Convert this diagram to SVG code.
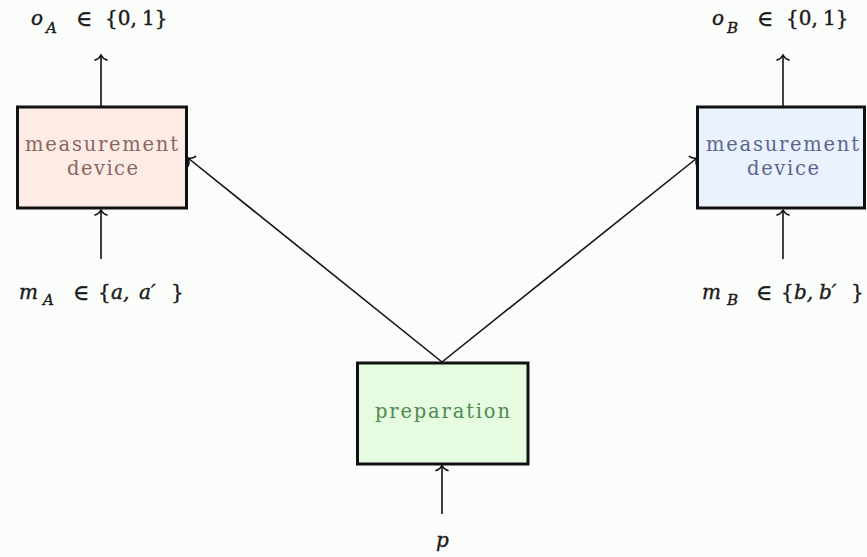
<svg xmlns="http://www.w3.org/2000/svg" width="867" height="557" viewBox="0 0 867 557">
  <style>
    .box { stroke: #111; stroke-width: 3; }
    .lbl { font-family: "DejaVu Serif", "Liberation Serif", serif; font-size: 19.5px; }
    .math { font-family: "DejaVu Serif", "Liberation Serif", serif; font-size: 20px; fill: #1a1a1a; stroke: #1a1a1a; stroke-width: 0.4; }
    .it { font-style: italic; }
    .sub { font-style: italic; font-size: 15px; }
    .big { font-size: 22px; }
    .wire { stroke: #111; stroke-width: 1.6; fill: none; marker-end: url(#tip); }
  </style>
  <defs>
    <marker id="tip" markerUnits="userSpaceOnUse" viewBox="-8 -8 10 16" markerWidth="10" markerHeight="16" refX="0" refY="0" orient="auto" overflow="visible">
      <path d="M-5,-6 C-4,-2 -1,-0.5 0,0 C-1,0.5 -4,2 -5,6" fill="none" stroke="#111" stroke-width="1.6" stroke-linecap="round"/>
    </marker>
  </defs>

  <rect width="867" height="557" fill="#fbfdfb"/>

  <!-- connectors -->
  <g id="connectors">
    <path class="wire" d="M101,107 L101,55"/>
    <path class="wire" d="M101,259 L101,210"/>
    <path class="wire" d="M783,107 L783,55"/>
    <path class="wire" d="M783,259 L783,210"/>
    <path class="wire" d="M442,362 L188,158"/>
    <path class="wire" d="M442,362 L697,158"/>
    <path class="wire" d="M442,514 L442,465.5"/>
  </g>

  <!-- Alice's measurement device -->
  <g id="deviceA">
    <rect class="box" x="17.5" y="107" width="169" height="101" fill="#fdebe5"/>
    <text class="lbl" fill="#8a675f" x="25" y="151" textLength="153" lengthAdjust="spacing">measurement</text>
    <text class="lbl" fill="#8a675f" x="67" y="175" textLength="71" lengthAdjust="spacing">device</text>
  </g>

  <!-- Bob's measurement device -->
  <g id="deviceB">
    <rect class="box" x="697.5" y="107" width="167" height="101" fill="#eaf2fe"/>
    <text class="lbl" fill="#5a6690" x="706" y="151" textLength="153" lengthAdjust="spacing">measurement</text>
    <text class="lbl" fill="#5a6690" x="747" y="175" textLength="72" lengthAdjust="spacing">device</text>
  </g>

  <!-- source -->
  <g id="preparation">
    <rect class="box" x="357.5" y="363" width="170.5" height="101" fill="#e5fce0"/>
    <text class="lbl" fill="#4f8a4f" x="375" y="418" textLength="135" lengthAdjust="spacing">preparation</text>
  </g>

  <!-- outputs -->
  <g id="outA">
    <text class="math"><tspan class="it" x="31" y="25">o</tspan><tspan class="sub" x="46" y="33">A</tspan><tspan class="big" x="76" y="26">∈</tspan><tspan x="105" y="25">{0,</tspan><tspan x="142" y="25">1}</tspan></text>
  </g>
  <g id="outB">
    <text class="math"><tspan class="it" x="712" y="25">o</tspan><tspan class="sub" x="727" y="33">B</tspan><tspan class="big" x="757" y="26">∈</tspan><tspan x="786" y="25">{0,</tspan><tspan x="823" y="25">1}</tspan></text>
  </g>

  <!-- settings -->
  <g id="inA">
    <text class="math"><tspan class="it" x="19" y="299">m</tspan><tspan class="sub" x="43" y="305">A</tspan><tspan class="big" x="73" y="300">∈</tspan><tspan x="98" y="299">{</tspan><tspan class="it" x="111" y="299">a,</tspan><tspan class="it" x="139" y="299">a′</tspan><tspan x="171" y="299">}</tspan></text>
  </g>
  <g id="inB">
    <text class="math"><tspan class="it" x="702" y="299">m</tspan><tspan class="sub" x="727" y="305">B</tspan><tspan class="big" x="756" y="300">∈</tspan><tspan x="781" y="299">{</tspan><tspan class="it" x="794" y="299">b,</tspan><tspan class="it" x="819" y="299">b′</tspan><tspan x="851" y="299">}</tspan></text>
  </g>

  <!-- preparation parameter -->
  <g id="param">
    <text class="math"><tspan class="it" x="436" y="547">p</tspan></text>
  </g>
</svg>
